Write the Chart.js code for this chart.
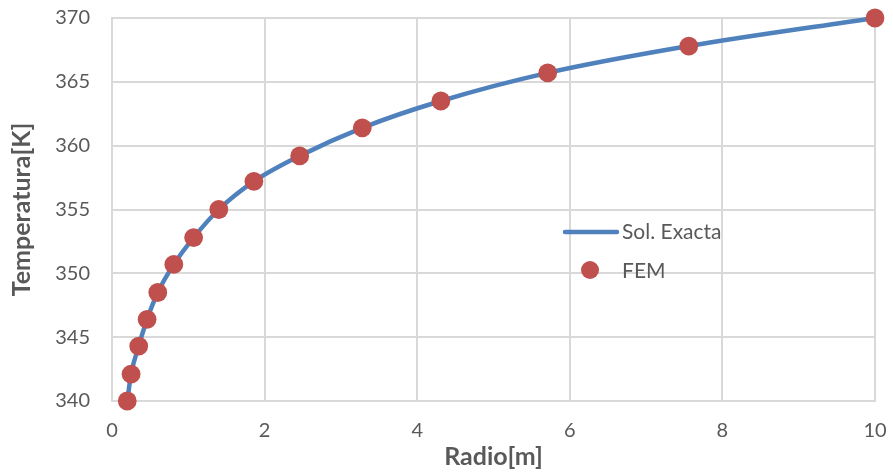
<!DOCTYPE html>
<html>
<head>
<meta charset="utf-8">
<script src="https://cdn.jsdelivr.net/npm/chart.js@4"></script>
<style>
html,body{margin:0;padding:0;background:#fff;}
#wrap{position:relative;width:893px;height:472px;}
</style>
</head>
<body>
<div id="wrap"><canvas id="c" width="893" height="472"></canvas></div>
<script>
// Data
const radio = [0.2, 0.25, 0.35, 0.46, 0.6, 0.81, 1.07, 1.4, 1.86, 2.46, 3.28, 4.31, 5.71, 7.56, 10];
const solExacta = [340.0, 342.1, 344.3, 346.4, 348.5, 350.7, 352.8, 355.0, 357.2, 359.2, 361.4, 363.5, 365.7, 367.8, 370.0];
const fem = [340.0, 342.1, 344.3, 346.4, 348.5, 350.7, 352.8, 355.0, 357.2, 359.2, 361.4, 363.5, 365.7, 367.8, 370.0];
const xTicks = [0, 2, 4, 6, 8, 10];
const yTicks = [340, 345, 350, 355, 360, 365, 370];
const seriesNames = ['Sol. Exacta', 'FEM'];

const BLUE = '#4F81BD', RED = '#C0504D', TXT = '#595959', GRID = '#D9D9D9';
const FONT = 'Lato, "Open Sans", sans-serif';

const legendPlugin = {
  id: 'inLegend',
  afterDraw(chart) {
    const ctx = chart.ctx;
    ctx.save();
    ctx.strokeStyle = BLUE; ctx.lineWidth = 4.5; ctx.lineCap = 'round';
    ctx.beginPath(); ctx.moveTo(565, 232); ctx.lineTo(617, 232); ctx.stroke();
    ctx.fillStyle = RED;
    ctx.beginPath(); ctx.arc(590, 270, 9, 0, Math.PI * 2); ctx.fill();
    ctx.fillStyle = TXT; ctx.font = '21px ' + FONT; ctx.textBaseline = 'middle';
    ctx.fillText(seriesNames[0], 622, 232);
    ctx.fillText(seriesNames[1], 622, 271);
    ctx.restore();
  }
};

new Chart(document.getElementById('c'), {
  type: 'scatter',
  data: {
    datasets: [
      {
        label: seriesNames[0],
        data: radio.map((x, i) => ({x, y: solExacta[i]})),
        showLine: true,
        borderColor: BLUE,
        backgroundColor: BLUE,
        borderWidth: 4.5,
        pointRadius: 0,
        cubicInterpolationMode: 'monotone',
        clip: false,
        order: 2
      },
      {
        label: seriesNames[1],
        data: radio.map((x, i) => ({x, y: fem[i]})),
        showLine: false,
        backgroundColor: RED,
        borderColor: RED,
        borderWidth: 0,
        pointRadius: 9.4,
        clip: false,
        order: 1
      }
    ]
  },
  options: {
    responsive: false,
    animation: false,
    layout: { autoPadding: false, padding: { left: 0, right: 18, top: 18, bottom: 0 } },
    plugins: { legend: { display: false }, tooltip: { enabled: false } },
    scales: {
      x: {
        type: 'linear', min: 0, max: 10,
        afterBuildTicks: s => { s.ticks = xTicks.map(v => ({value: v})); },
        afterFit: s => { s.height = 71; s.paddingLeft = 0; s.paddingRight = 0; },
        grid: { color: GRID, lineWidth: 2, drawTicks: false },
        border: { color: GRID, width: 2 },
        ticks: { color: TXT, font: { family: FONT, size: 20 }, padding: 18 },
        title: { display: true, text: 'Radio[m]', color: TXT, font: { family: FONT, size: 25, weight: 'bold' }, padding: { top: 0, bottom: 0 } }
      },
      y: {
        type: 'linear', min: 340, max: 370,
        afterBuildTicks: s => { s.ticks = yTicks.map(v => ({value: v})); },
        afterFit: s => { s.width = 112; s.paddingTop = 0; s.paddingBottom = 0; },
        grid: { color: GRID, lineWidth: 2, drawTicks: false },
        border: { color: GRID, width: 2 },
        ticks: { color: TXT, font: { family: FONT, size: 20 }, padding: 22 },
        title: { display: true, text: 'Temperatura[K]', color: TXT, font: { family: FONT, size: 25, weight: 'bold' }, padding: { top: 7, bottom: 0 } }
      }
    }
  },
  plugins: [legendPlugin]
});
</script>
</body>
</html>
